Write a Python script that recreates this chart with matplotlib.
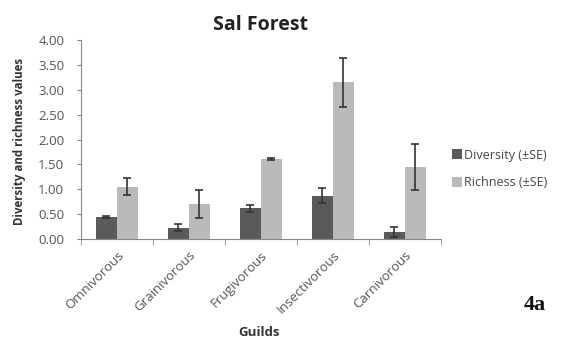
import matplotlib
matplotlib.use("Agg")
import matplotlib.pyplot as plt
import numpy as np

guilds = ["Omnivorous", "Grainivorous", "Frugivorous", "Insectivorous", "Carnivorous"]
diversity = [0.45, 0.23, 0.62, 0.87, 0.15]
diversity_se = [0.02, 0.07, 0.07, 0.15, 0.10]
richness = [1.05, 0.70, 1.61, 3.15, 1.45]
richness_se = [0.17, 0.28, 0.02, 0.50, 0.47]
yticks = [0.0, 0.5, 1.0, 1.5, 2.0, 2.5, 3.0, 3.5, 4.0]

plt.rcParams['font.family'] = ['Open Sans', 'DejaVu Sans']

fig = plt.figure(figsize=(5.66, 3.4), dpi=100)
ax = fig.add_axes([0.143, 0.297, 0.636, 0.585])

x = np.arange(len(guilds))
w = 0.29
ekw = dict(ecolor='#333333', elinewidth=1.2, capsize=3, capthick=1.2)
ax.bar(x - w/2, diversity, w, yerr=diversity_se, color='#5a5a5a', label='Diversity (±SE)', error_kw=ekw)
ax.bar(x + w/2, richness, w, yerr=richness_se, color='#bababa', label='Richness (±SE)', error_kw=ekw)

ax.set_xlim(-0.5, len(guilds) - 0.5)
ax.set_ylim(0, 4.0)
ax.set_yticks(yticks)
ax.set_yticklabels([f"{v:.2f}" for v in yticks], fontsize=9.5, color='#555555')
ax.set_xticks(x)
ax.set_xticklabels(guilds, rotation=45, ha='right', rotation_mode='anchor', fontsize=9.5, color='#555555')
ax.tick_params(axis='x', length=0, pad=7)
ax.set_xticks(np.arange(-0.5, len(guilds)), minor=True)
ax.tick_params(axis='x', which='minor', length=4, color='#888888')
ax.tick_params(axis='y', length=3, color='#888888', pad=9)
for s in ['top', 'right']:
    ax.spines[s].set_visible(False)
for s in ['left', 'bottom']:
    ax.spines[s].set_color('#888888')

ax.set_title("Sal Forest", fontsize=14, fontweight='bold', pad=7, color='#222222')
fig.text(20/566, 1 - 141/340, "Diversity and richness values", fontsize=8.3, fontweight='bold',
         rotation=90, ha='center', va='center', color='#333333')
fig.text(259/566, 1 - 332/340, "Guilds", fontsize=9.5, fontweight='bold', ha='center', va='center',
         color='#333333')

fig.legend(loc='center left', bbox_to_anchor=(452/566, 1 - 169/340), frameon=False, fontsize=9,
           handlelength=0.8, handleheight=0.8, handletextpad=0.15, labelspacing=1.2,
           borderpad=0, borderaxespad=0, labelcolor='#444444')

fig.text(535/566, 1 - 305/340, "4a", fontsize=16, fontweight='bold', family='Liberation Serif',
         ha='center', va='center', color='#111111')

fig.savefig("out.png", dpi=100)
